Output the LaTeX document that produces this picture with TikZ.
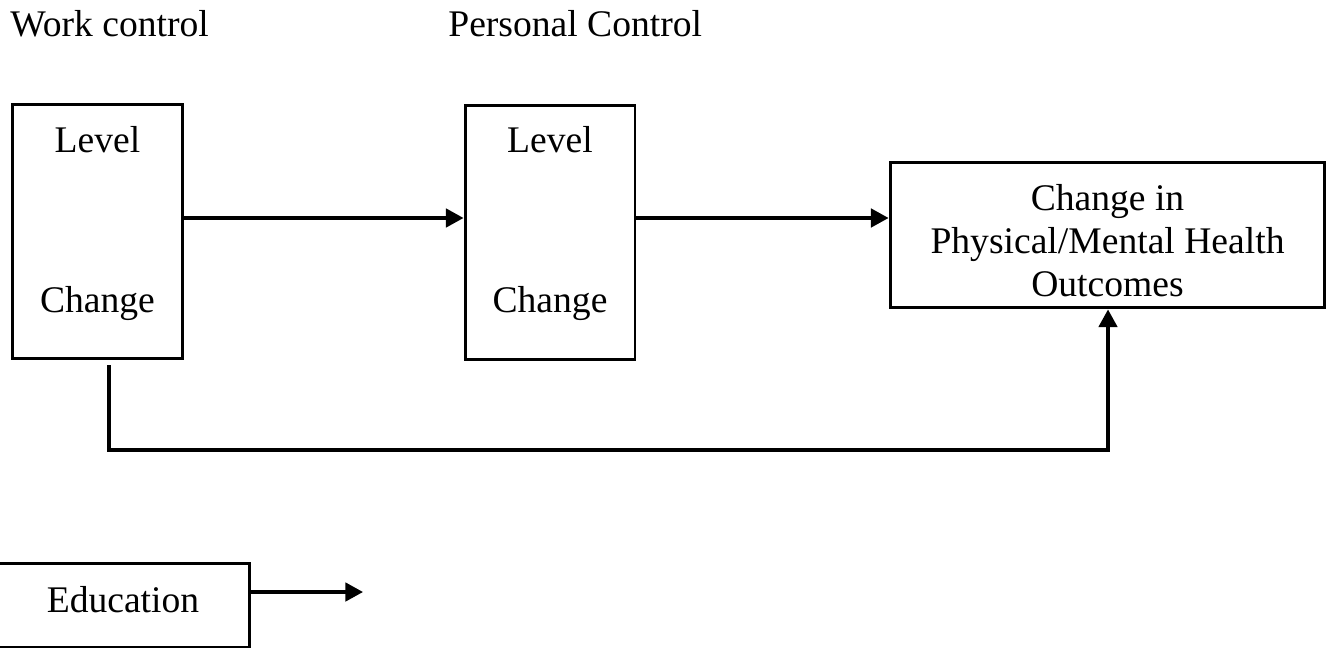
\documentclass[tikz,border=0pt]{standalone}
\usepackage{fontspec}
\setmainfont{Liberation Serif}
\usetikzlibrary{arrows.meta}
\begin{document}
\begin{tikzpicture}[x=0.02cm,y=-0.02cm,
  every node/.style={font=\fontsize{21.4}{25}\selectfont},
  box/.style={draw,line width=1.7pt,inner sep=0pt},
  lbl/.style={anchor=base,inner sep=0pt},
  arr/.style={line width=1.8pt,-{Triangle[length=10pt,width=10.5pt]}}]
\useasboundingbox (0,0) rectangle (1334,652);
% titles
\node[lbl,anchor=base west] (t1) at (10,37) {Work control};
\node[lbl,anchor=base west] (t2) at (448,37) {Personal Control};
% boxes
\node[box,minimum width=3.42cm,minimum height=5.1cm] (b1) at (97.5,231.5) {};
\node[box,minimum width=3.40cm,minimum height=5.1cm] (b2) at (550,232.5) {};
\node[box,minimum width=8.7cm,minimum height=2.92cm] (b3) at (1107.5,235) {};
\node[box,minimum width=5.08cm,minimum height=1.68cm] (ed) at (123,605) {};
% box texts
\node[lbl] (l1) at (97.5,152) {Level};
\node[lbl] (c1) at (97.5,312) {Change};
\node[lbl] (l2) at (550,152) {Level};
\node[lbl] (c2) at (550,312) {Change};
\node[lbl] (o1) at (1107.5,210) {Change in};
\node[lbl] (o2) at (1107.5,253) {Physical/Mental Health};
\node[lbl] (o3) at (1107.5,296) {Outcomes};
\node[lbl] (et) at (123,612) {Education};
% connectors
\coordinate (r1) at (0,218);
\draw[arr] (b1.east |- r1) -- (b2.west |- r1);
\draw[arr] (b2.east |- r1) -- (b3.west |- r1);
\coordinate (s1) at (109,365);
\coordinate (s2) at (1108,450);
\draw[arr] (s1) |- (s2) -- (s2 |- b3.south);
\coordinate (e1) at (363,592);
\draw[arr] (ed.east |- e1) -- (e1);
\end{tikzpicture}
\end{document}
